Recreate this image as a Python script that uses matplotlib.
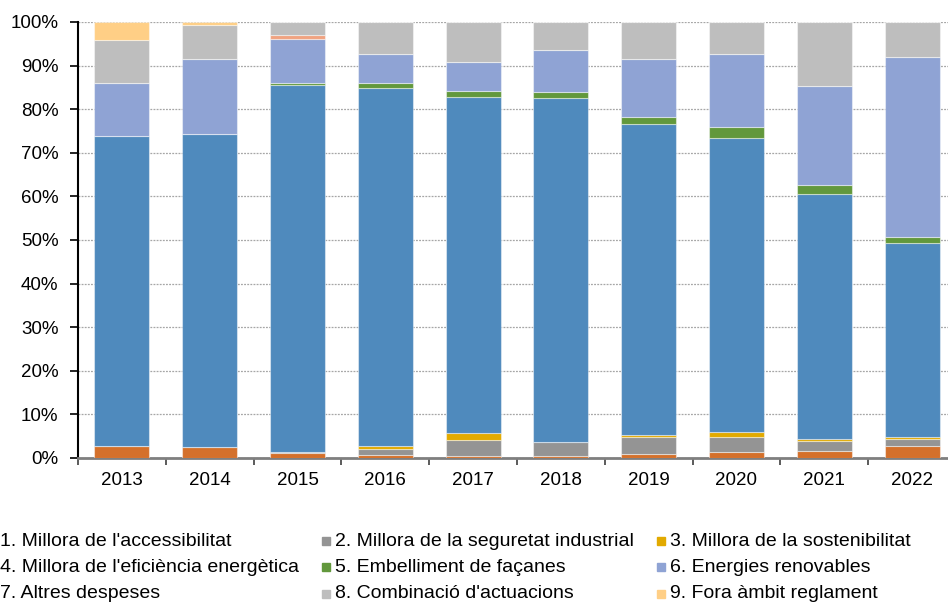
import numpy as np
import matplotlib.pyplot as plt
from matplotlib.patches import Rectangle

plt.rcParams['font.family'] = ['Liberation Sans', 'DejaVu Sans']

anys = ['2013', '2014', '2015', '2016', '2017', '2018', '2019', '2020', '2021', '2022']

etiquetes = ["1. Millora de l'accessibilitat",
             "2. Millora de la seguretat industrial",
             "3. Millora de la sostenibilitat",
             "4. Millora de l'eficiència energètica",
             "5. Embelliment de façanes",
             "6. Energies renovables",
             "7. Altres despeses",
             "8. Combinació d'actuacions",
             "9. Fora àmbit reglament"]

colors = ['#d4702b', '#949494', '#e2aa00', '#4f8abd', '#62983c',
          '#8fa3d4', '#f0a382', '#bebebe', '#ffcf86']

# percentatges per categoria (llegits del grafic)
s1 = [2.8, 2.5, 1.1, 0.7, 0.4, 0.4, 1.0, 1.4, 1.7, 2.8]
s2 = [0.0, 0.0, 0.3, 1.4, 3.8, 3.2, 3.8, 3.5, 2.2, 1.6]
s3 = [0.0, 0.0, 0.0, 0.7, 1.5, 0.0, 0.5, 1.1, 0.4, 0.5]
s4 = [71.1, 71.8, 84.2, 82.1, 77.2, 79.0, 71.4, 67.5, 56.2, 44.3]
s5 = [0.0, 0.0, 0.4, 1.2, 1.3, 1.4, 1.6, 2.4, 2.1, 1.5]
s6 = [12.2, 17.3, 10.1, 6.6, 6.7, 9.6, 13.1, 16.8, 22.8, 41.3]
s7 = [0.0, 0.0, 0.9, 0.0, 0.0, 0.0, 0.0, 0.0, 0.0, 0.0]
s8 = [9.8, 7.8, 3.0, 7.3, 9.1, 6.4, 8.6, 7.3, 14.6, 8.0]
s9 = [4.1, 0.6, 0.0, 0.0, 0.0, 0.0, 0.0, 0.0, 0.0, 0.0]

series = [s1, s2, s3, s4, s5, s6, s7, s8, s9]

fig = plt.figure(figsize=(9.48, 6.05), dpi=100)
ax = fig.add_axes([78/948, 147/605, 878/948, 436/605])

x = np.arange(len(anys))
base = np.zeros(len(anys))
for s, c in zip(series, colors):
    v = np.array(s)
    ax.bar(x, v, 0.625, bottom=base, color=c, edgecolor=(1, 1, 1, 0.45), linewidth=0.8, zorder=3)
    base += v

ax.set_xlim(-0.5, 9.5)
ax.set_ylim(0, 100)
ax.set_yticks(np.arange(0, 101, 10))
ax.set_yticklabels([f'{v}%' for v in range(0, 101, 10)], fontsize=13.5)
ax.set_xticks(x)
ax.set_xticklabels(anys, fontsize=13.5)
ax.set_xticks(np.arange(-0.5, 9.6, 1), minor=True)
ax.tick_params(axis='x', which='major', length=0, pad=10)
ax.tick_params(axis='x', which='minor', length=5, width=1.2, color='#404040')
ax.tick_params(axis='y', length=6, width=1.2, pad=8)
ax.grid(axis='y', linestyle=(0, (1.5, 1)), color='#a6a6a6', linewidth=0.9, zorder=0)

for sp in ['top', 'right']:
    ax.spines[sp].set_visible(False)
ax.spines['left'].set_linewidth(1.5)
ax.spines['bottom'].set_color('#7f7f7f')
ax.spines['bottom'].set_linewidth(2)

# llegenda (3 columnes, la primera amb el marcador fora de la imatge)
col_x = [0, 335, 670]
row_y = [541, 567, 594]
for i, (lab, c) in enumerate(zip(etiquetes, colors)):
    cx = col_x[i % 3]
    cy = row_y[i // 3]
    fig.patches.append(Rectangle(((cx - 13)/948, 1 - (cy + 4)/605), 8/948, 8/605,
                                 transform=fig.transFigure, color=c, figure=fig))
    fig.text(cx/948, 1 - cy/605, lab, fontsize=14, va='center', ha='left')

fig.savefig('out.png', dpi=100)
